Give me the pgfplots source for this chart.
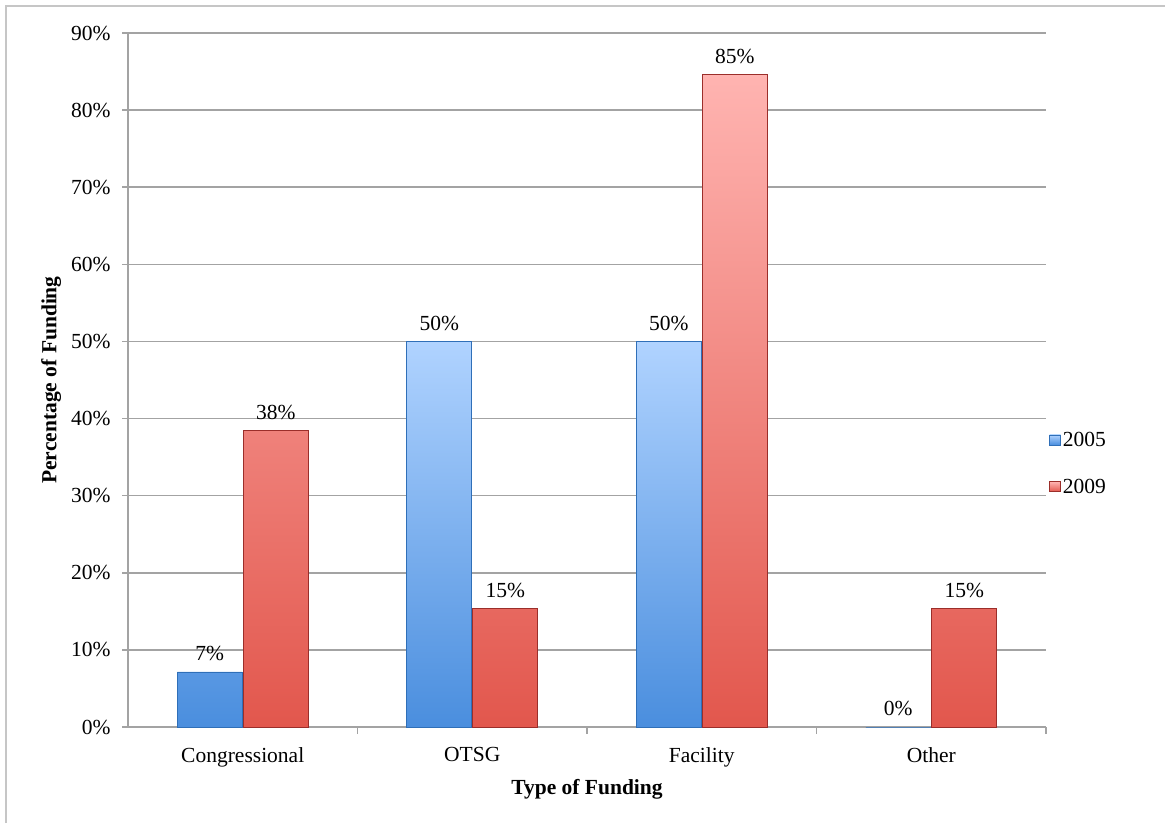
\documentclass[border=0pt]{standalone}
\usepackage{fontspec}
\setmainfont{Liberation Serif}
\usepackage{pgfplots}
\pgfplotsset{compat=1.18}

\definecolor{blueTop}{HTML}{B0D3FF}
\definecolor{blueBot}{HTML}{4A8EDE}
\definecolor{blueEdge}{HTML}{2F6FB8}
\definecolor{redTop}{HTML}{FFB4B1}
\definecolor{redBot}{HTML}{E2574D}
\definecolor{redEdge}{HTML}{9B2E2A}
\definecolor{gridgray}{HTML}{A3A3A3}

\begin{document}
\begin{tikzpicture}[font=\fontsize{21.5}{25}\selectfont]
  \useasboundingbox (0pt,0pt) rectangle (1165pt,823pt);
  \draw[gray!45, line width=1.5pt] (6pt,0pt) -- (6pt,817pt) -- (1165pt,817pt);
  \begin{axis}[
      at={(128pt,96pt)}, anchor=south west,
      scale only axis,
      width=918pt, height=694pt,
      /pgf/number format/assume math mode=true,
      ybar=1pt,
      bar width=65pt,
      xmin=-0.5, xmax=3.5,
      ymin=0, ymax=90,
      ytick={0,10,...,90},
      yticklabel={\pgfmathprintnumber{\tick}\%},
      xtick={0,1,2,3},
      xticklabels={Congressional,OTSG,Facility,Other},
      minor xtick={0.5,1.5,2.5,3.5},
      major x tick style={draw=none},
      minor x tick style={gridgray, line width=1.5pt},
      y tick style={gridgray, line width=1.5pt},
      tick align=outside,
      major tick length=6pt,
      minor tick length=7pt,
      axis x line*=bottom,
      axis y line*=left,
      axis line style={gridgray, line width=1.5pt, -},
      ymajorgrids,
      major grid style={gridgray, line width=1.5pt},
      yticklabel style={xshift=-8pt},
      xticklabel style={yshift=-11pt},
      xlabel={\textbf{Type of Funding}},
      ylabel={\textbf{Percentage of Funding}},
      xlabel style={yshift=-5pt},
      ylabel style={yshift=3pt},
      nodes near coords={\pgfmathprintnumber[fixed,precision=0]{\pgfplotspointmeta}\%},
      nodes near coords style={text=black, yshift=7pt},
      legend style={at={(1.0,0.38)}, anchor=west, draw=none, fill=none,
        row sep=27pt, inner sep=3pt},
      legend cell align=left,
      legend image code/.code={\draw[#1, line width=0.6pt] (0pt,-5pt) rectangle (11pt,5pt);},
    ]
    \addplot[draw=blueEdge, line width=0.8pt, top color=blueTop, bottom color=blueBot]
      coordinates {(0,7.14) (1,50) (2,50) (3,0)};
    \addplot[draw=redEdge, line width=0.8pt, top color=redTop, bottom color=redBot]
      coordinates {(0,38.46) (1,15.38) (2,84.62) (3,15.38)};
    \legend{2005,2009}
  \end{axis}
\end{tikzpicture}
\end{document}
